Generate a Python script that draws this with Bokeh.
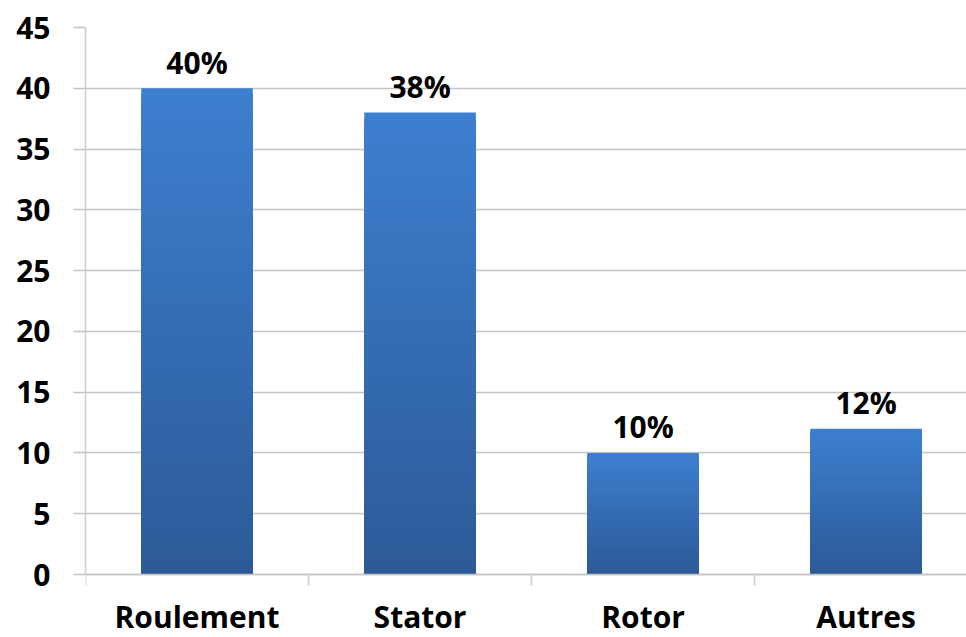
from bokeh.plotting import figure
from bokeh.models import Range1d, FixedTicker, ColumnDataSource
from bokeh.core.properties import value
from bokeh.embed import file_html
from bokeh.resources import INLINE

# Failure sources (share, %)
categories = ["Roulement", "Stator", "Rotor", "Autres"]
shares = [40, 38, 10, 12]
y_ticks = [0, 5, 10, 15, 20, 25, 30, 35, 40, 45]

FONT = "Open Sans"
GRID = "#c4c4c4"
AXIS = "#cfcfcf"
TOP_RGB = (0x3D, 0x7F, 0xD0)
BOTTOM_RGB = (0x2C, 0x5A, 0x97)
N_SLICES = 80

centers = [i + 0.5 for i in range(len(categories))]

# The frame runs down to the bottom edge; the category axis sits at y = 0
# and its names are drawn in the space below it.
p = figure(
    width=966, height=637,
    x_range=Range1d(0, 3.95), y_range=Range1d(-5.18, 45),
    output_backend="svg", toolbar_location=None, tools="",
    min_border_left=85, min_border_right=0, min_border_top=27, min_border_bottom=0,
)
p.outline_line_color = None
p.background_fill_color = "white"
p.border_fill_color = "white"

# Bars shaded light (top) to dark (bottom): nested bars, tallest first,
# each shorter one painted over the previous one
xs, tops, colors = [], [], []
for i in reversed(range(N_SLICES)):
    f = (i + 0.5) / N_SLICES
    r, g, b = (round(BOTTOM_RGB[k] + (TOP_RGB[k] - BOTTOM_RGB[k]) * f) for k in range(3))
    for c, v in zip(centers, shares):
        xs.append(c)
        tops.append(v * (i + 1) / N_SLICES)
        colors.append(f"#{r:02x}{g:02x}{b:02x}")
bars = ColumnDataSource(dict(x=xs, top=tops, color=colors))
p.vbar(x="x", bottom=0, top="top", width=0.5, source=bars,
       fill_color="color", line_color=None)

# Value labels above the bars
labels = ColumnDataSource(dict(x=centers, y=shares, text=[f"{v}%" for v in shares]))
p.text(x="x", y="y", text="text", source=labels,
       text_font=value(FONT), text_font_style="bold", text_font_size="30px",
       text_color="black", text_align="center", text_baseline="alphabetic",
       y_offset=-26)

# Horizontal grid
p.xgrid.grid_line_color = None
p.ygrid.ticker = FixedTicker(ticks=y_ticks)
p.ygrid.grid_line_color = GRID
p.ygrid.grid_line_width = 1.6

# Y axis
p.yaxis.ticker = FixedTicker(ticks=y_ticks)
p.yaxis.bounds = (0, 45)
p.yaxis.axis_line_color = AXIS
p.yaxis.axis_line_width = 1.6
p.yaxis.major_tick_line_color = GRID
p.yaxis.major_tick_line_width = 1.6
p.yaxis.major_tick_in = 0
p.yaxis.major_tick_out = 12
p.yaxis.minor_tick_line_color = None
p.yaxis.major_label_standoff = 23
p.yaxis.major_label_text_font = FONT
p.yaxis.major_label_text_font_style = "bold"
p.yaxis.major_label_text_font_size = "30px"
p.yaxis.major_label_text_color = "black"

# X axis at y = 0: names at category centres, small marks at the boundaries
p.xaxis.fixed_location = 0
p.xaxis.ticker = FixedTicker(ticks=centers, minor_ticks=list(range(len(categories) + 1)))
p.xaxis.major_label_overrides = {c: name for c, name in zip(centers, categories)}
p.xaxis.axis_line_color = GRID
p.xaxis.axis_line_width = 1.6
p.xaxis.major_tick_line_color = None
p.xaxis.major_tick_in = 0
p.xaxis.major_tick_out = 0
p.xaxis.minor_tick_line_color = AXIS
p.xaxis.minor_tick_line_width = 1.6
p.xaxis.minor_tick_in = 0
p.xaxis.minor_tick_out = 11
p.xaxis.major_label_standoff = 10
p.xaxis.major_label_text_font = FONT
p.xaxis.major_label_text_font_style = "bold"
p.xaxis.major_label_text_font_size = "30px"
p.xaxis.major_label_text_color = "black"

open("out.html", "w").write(file_html(p, INLINE))
